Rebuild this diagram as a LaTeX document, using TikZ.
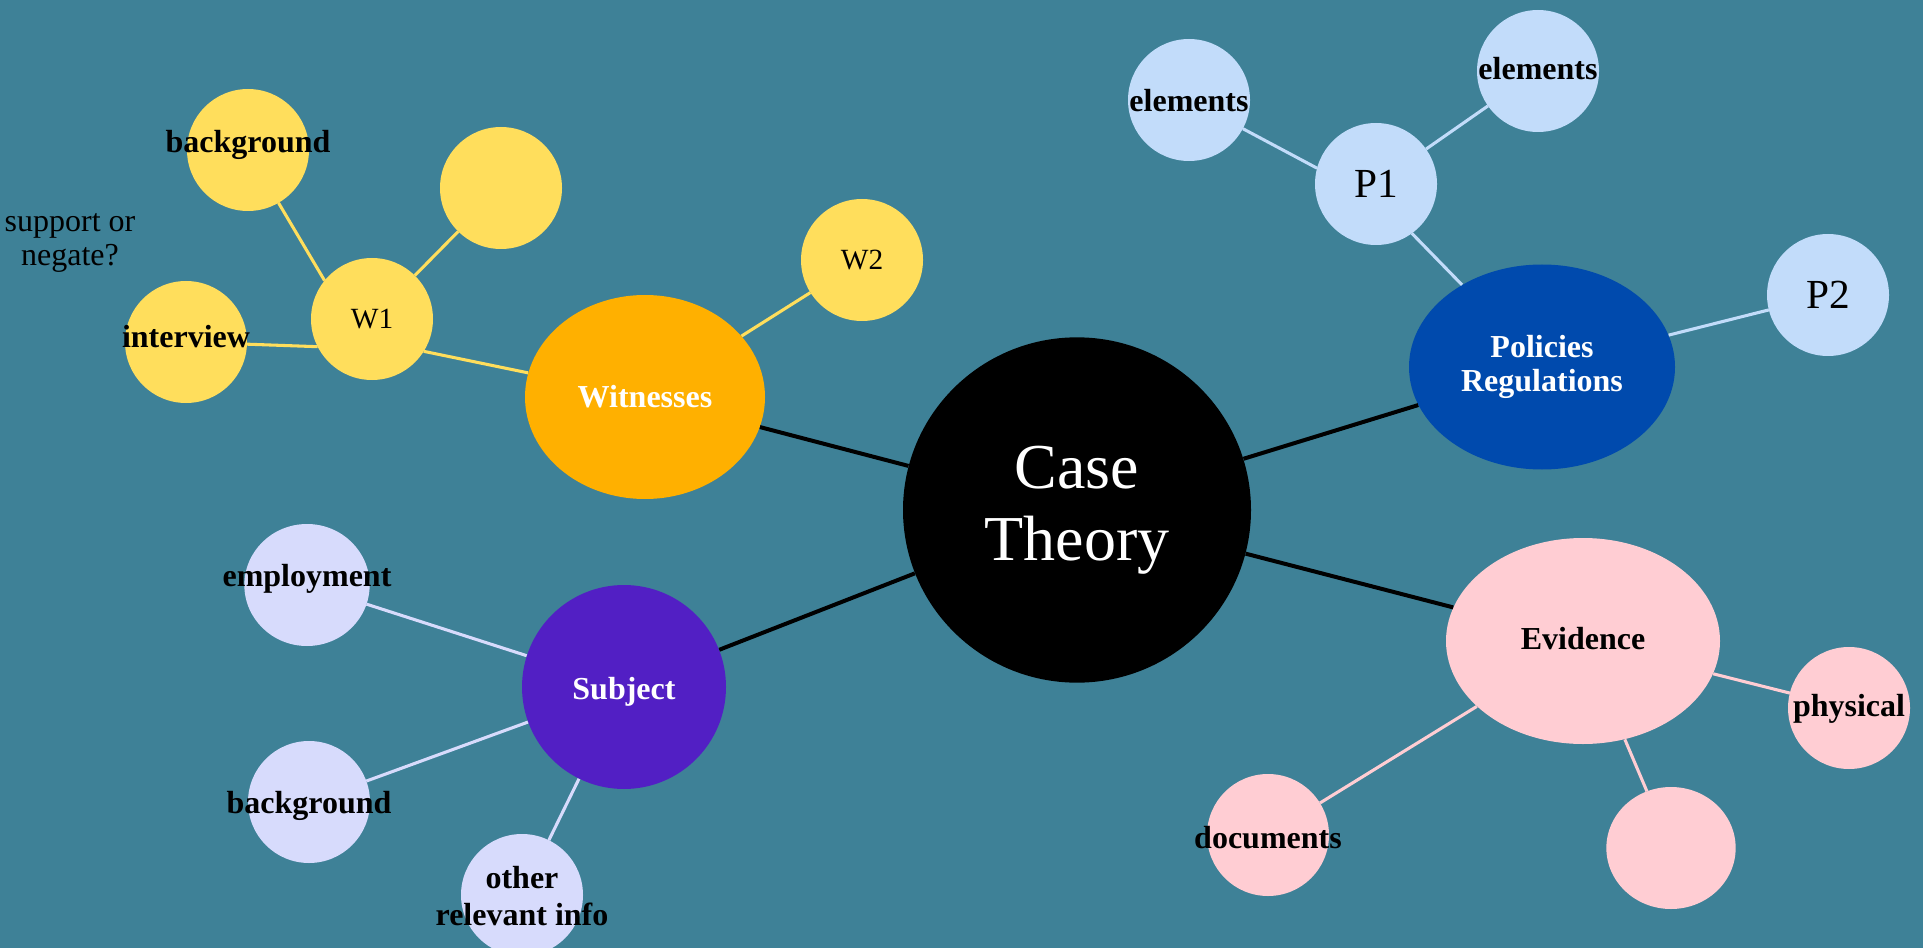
\documentclass[tikz,border=0pt]{standalone}
\usepackage{fontspec}
\setmainfont{Liberation Serif}
\usetikzlibrary{shapes.geometric}
\definecolor{bgc}{RGB}{62,129,151}
\definecolor{ylw}{RGB}{255,222,92}
\definecolor{org}{RGB}{255,176,0}
\definecolor{polb}{RGB}{0,74,173}
\definecolor{ltb}{RGB}{194,220,250}
\definecolor{pnk}{RGB}{255,205,211}
\definecolor{prp}{RGB}{82,31,196}
\definecolor{lav}{RGB}{215,219,252}
% text placed with its baseline #1 above the node centre, taking no room
\newcommand{\bl}[2]{\raisebox{#1}[0pt][0pt]{\makebox[0pt][c]{#2}}}
\tikzset{
  bub/.style={ellipse, inner sep=0pt, outer sep=0pt, minimum width=91.5pt, minimum height=91.5pt},
  blab/.style={font=\fontsize{24}{28}\selectfont\bfseries, text=black},
  wlab/.style={font=\fontsize{24}{25}\selectfont\bfseries, text=white, align=center},
  rlab/.style={font=\fontsize{22}{26}\selectfont, text=black},
  plab/.style={font=\fontsize{31}{34}\selectfont, text=black},
  mainlink/.style={line width=3pt, black},
  sublink/.style={line width=2.3pt}
}
\begin{document}
\begin{tikzpicture}[x=0.75pt, y=-0.75pt]
\clip (0,0) rectangle (1923,948);
\fill[bgc] (0,0) rectangle (1923,948);

% centre
\node[ellipse, inner sep=0pt, minimum width=261pt, minimum height=259pt, fill=black,
      text=white, align=center, font=\fontsize{48}{54}\selectfont] (ct) at (1077,510) {Case\\Theory};

% witnesses cluster
\node[ellipse, inner sep=0pt, minimum width=180pt, minimum height=153pt, fill=org, wlab] (wit) at (645,397) {Witnesses};
\node[bub, fill=ylw, rlab] (w2) at (862,260) {W2};
\node[bub, fill=ylw, rlab] (w1) at (372,319) {W1};
\node[bub, fill=ylw] (yemp) at (501,188) {};
\node[bub, fill=ylw, blab] (ybg) at (248,150) {\bl{-1.8pt}{background}};
\node[bub, fill=ylw, blab] (int) at (186,342) {\bl{-4.3pt}{interview}};
\node[align=center, font=\fontsize{24}{26}\selectfont, text=black, inner sep=0pt] (sup) at (70,243) {support or\\negate?};

% policies cluster
\node[ellipse, inner sep=0pt, minimum width=199.5pt, minimum height=153.75pt, fill=polb, wlab] (pol) at (1542,367) {Policies\\Regulations};
\node[bub, fill=ltb, plab] (p1) at (1376,184) {P1};
\node[bub, fill=ltb, plab] (p2) at (1828,295) {P2};
\node[bub, fill=ltb, blab] (ell) at (1189,100) {\bl{-9pt}{elements}};
\node[bub, fill=ltb, blab] (elr) at (1538,71) {\bl{-6.3pt}{elements}};

% evidence cluster
\node[ellipse, inner sep=0pt, minimum width=205.5pt, minimum height=154.5pt, fill=pnk, blab] (ev) at (1583,641) {\bl{-6.3pt}{Evidence}};
\node[bub, fill=pnk, blab] (phys) at (1849,708) {\bl{-6.4pt}{physical}};
\node[bub, fill=pnk, minimum width=97pt] (pemp) at (1671,848) {};
\node[bub, fill=pnk, blab] (doc) at (1268,835) {\bl{-9.9pt}{documents}};

% subject cluster
\node[ellipse, inner sep=0pt, minimum width=153pt, minimum height=153pt, fill=prp, wlab] (sub) at (624,687) {\bl{-9.2pt}{Subject}};
\node[bub, fill=lav, blab, minimum width=94pt] (emp) at (307,585) {\bl{-1pt}{employment}};
\node[bub, fill=lav, blab] (sbg) at (309,802) {\bl{-8.3pt}{background}};
\node[bub, fill=lav, blab] (oth) at (522,895) {\bl{-9.7pt}{\begin{tabular}{@{}c@{}}other\\relevant info\end{tabular}}};

% main links
\draw[mainlink] (ct) -- (wit);
\draw[mainlink] (ct) -- (pol);
\draw[mainlink] (ct) -- (ev);
\draw[mainlink] (ct) -- (sub);

% witness links
\draw[sublink, ylw] (w1.-32) -- (wit);
\draw[sublink, ylw] (wit) -- (w2);
\draw[sublink, ylw] (w1) -- (yemp);
\draw[sublink, ylw] (ybg.-60) -- (w1.141);
\draw[sublink, ylw] (int) -- (w1.207);

% policy links
\draw[sublink, ltb] (p1.-54) -- (pol);
\draw[sublink, ltb] (pol) -- (p2);
\draw[sublink, ltb] (ell) -- (p1.165);
\draw[sublink, ltb] (p1) -- (elr);

% evidence links
\draw[sublink, pnk] (ev) -- (phys);
\draw[sublink, pnk] (ev) -- (pemp);
\draw[sublink, pnk] (ev) -- (doc);

% subject links
\draw[sublink, lav] (sub) -- (emp);
\draw[sublink, lav] (sub) -- (sbg);
\draw[sublink, lav] (sub) -- (oth);
\end{tikzpicture}
\end{document}
